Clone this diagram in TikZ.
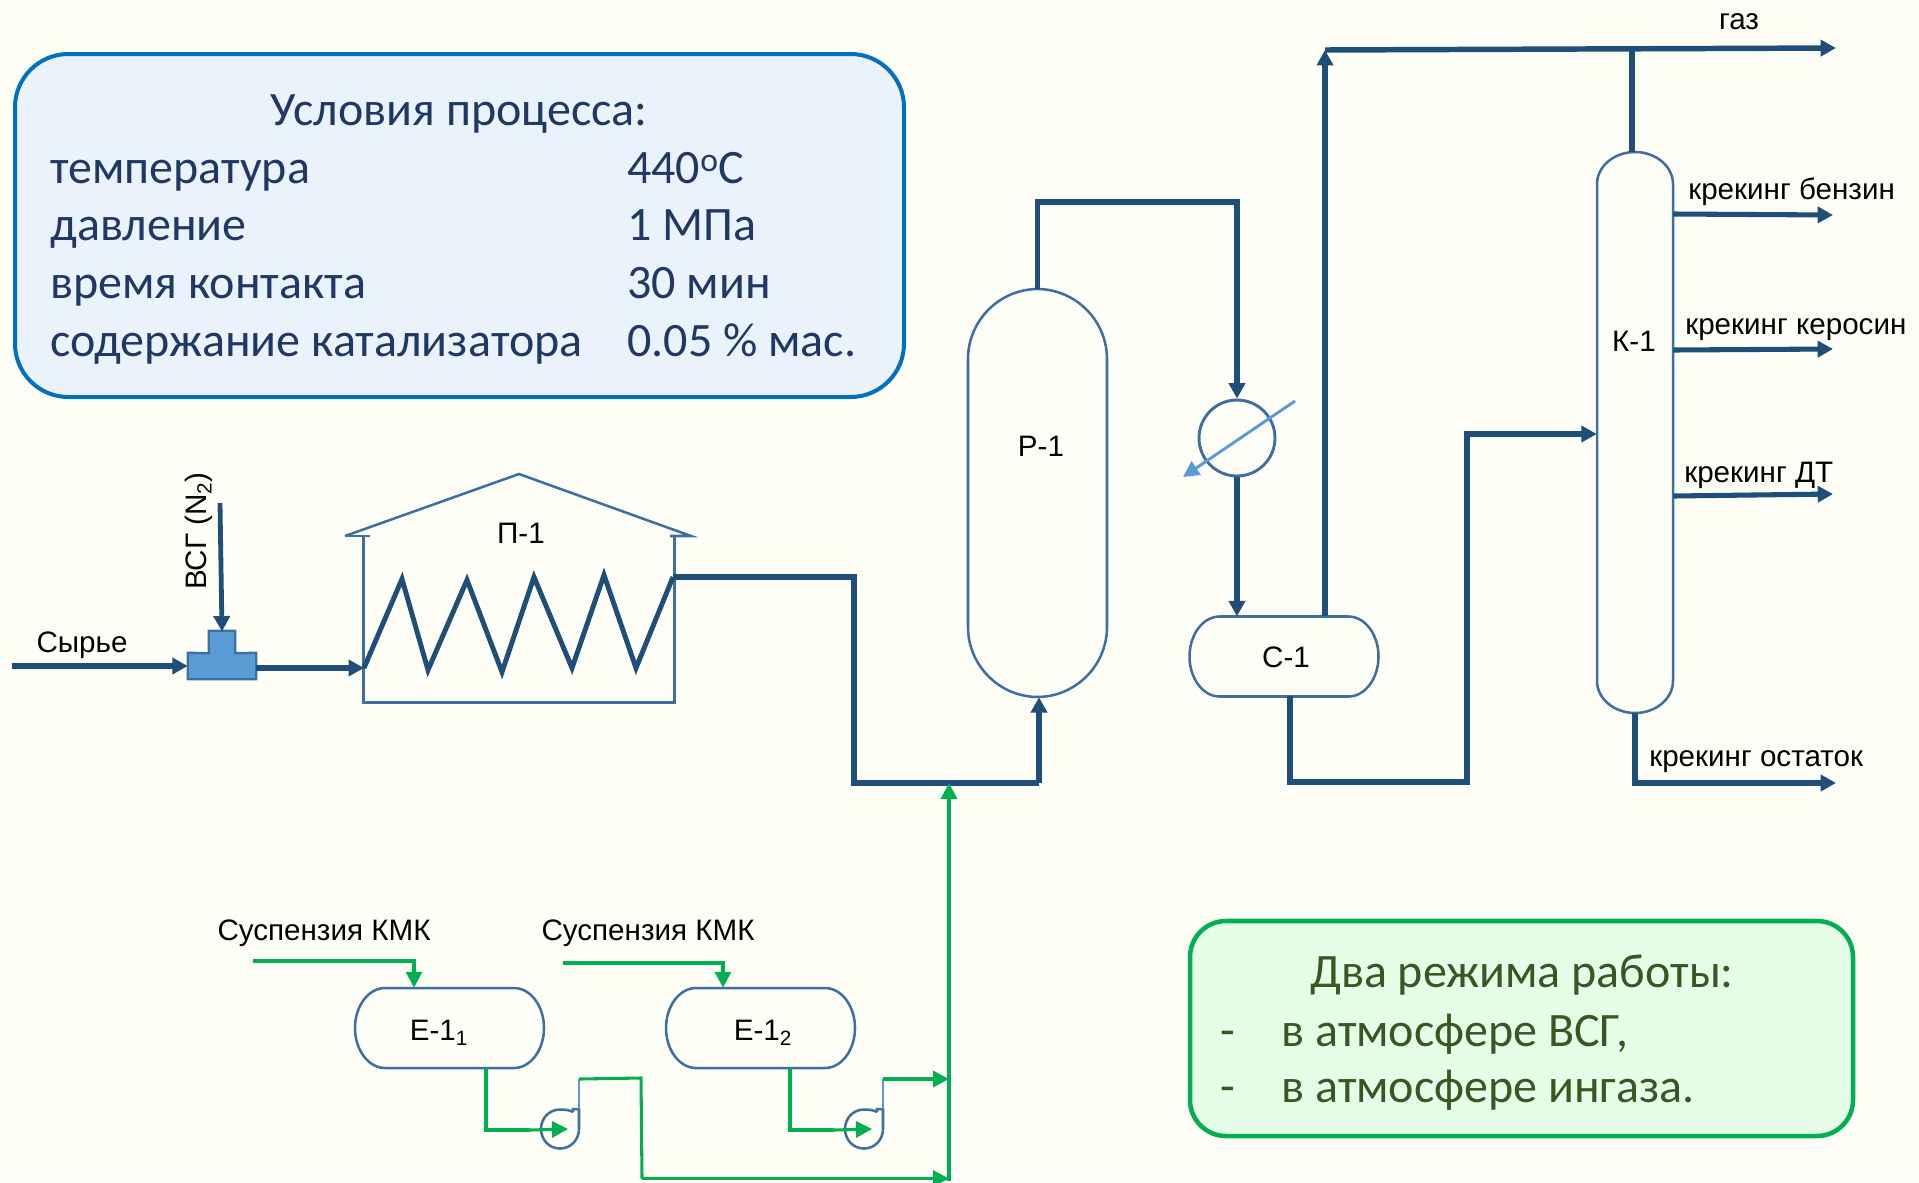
\documentclass[tikz,border=0pt]{standalone}
\usepackage{fontspec}
\setmainfont{Liberation Sans}
\newfontfamily\calfont{Carlito}
\usetikzlibrary{arrows.meta,calc}
\definecolor{bgc}{HTML}{FFFFF8}
\definecolor{pipe}{HTML}{1F4E79}
\definecolor{rim}{HTML}{3E6F9E}
\definecolor{lblue}{HTML}{5B9BD5}
\definecolor{grn}{HTML}{00B050}
\definecolor{infoT}{HTML}{203864}
\definecolor{greenT}{HTML}{385723}
\definecolor{infoB}{HTML}{0070C0}
\definecolor{infoF}{HTML}{EAF2FB}
\definecolor{greenF}{HTML}{E6FDE8}
\tikzset{
  x=0.75pt,y=-0.75pt,
  pipeline/.style={draw=pipe,line width=4.1pt,line join=miter},
  pipearrow/.style={pipeline,-{Triangle[length=11.5pt,width=12pt]}},
  greenline/.style={draw=grn,line width=2.3pt,line join=miter},
  greenarrow/.style={greenline,-{Triangle[length=12pt,width=12pt]}},
  rimline/.style={draw=rim,line width=1.9pt},
  lbl/.style={font=\fontsize{22.2pt}{26pt}\selectfont,inner sep=0pt,text=black},
  vesselbox/.style={inner sep=0pt,draw=none,lbl},
  infotxt/.style={font=\calfont\fontsize{36pt}{42pt}\selectfont,text=infoT,inner sep=0pt},
  greentxt/.style={font=\calfont\fontsize{36pt}{42pt}\selectfont,text=greenT,inner sep=0pt},
}
% name, cx, cy, half width, half height, rx, ry, label
\newcommand{\vessel}[8]{%
  \draw[rimline,shift={(#2,#3)}]
    ({-#4+#6},{-#5}) -- ({#4-#6},{-#5})
    .. controls ({#4-0.45*#6},{-#5}) and ({#4},{-#5+0.45*#7}) .. ({#4},{-#5+#7})
    -- ({#4},{#5-#7})
    .. controls ({#4},{#5-0.45*#7}) and ({#4-0.45*#6},{#5}) .. ({#4-#6},{#5})
    -- ({-#4+#6},{#5})
    .. controls ({-#4+0.45*#6},{#5}) and ({-#4},{#5-0.45*#7}) .. ({-#4},{#5-#7})
    -- ({-#4},{-#5+#7})
    .. controls ({-#4},{-#5+0.45*#7}) and ({-#4+0.45*#6},{-#5}) .. ({-#4+#6},{-#5}) -- cycle;
  \node[vesselbox,minimum width={2*#4*0.75pt},minimum height={2*#5*0.75pt}] (#1) at (#2,#3) {#8};
}
% name, cx, cy: pump body with its discharge neck
\newcommand{\pumpbody}[3]{%
  \node[circle,inner sep=0pt,minimum size=28.5pt] (#1) at (#2,#3) {};
  \draw[rimline,line join=miter,shift={(#2,#3)}]
    (13,-17) .. controls (9,-19) and (5,-19.5) .. (0,-19.5)
    .. controls (-11,-19.5) and (-19,-10.5) .. (-19,0)
    .. controls (-19,10.5) and (-11,19.5) .. (0,19.5)
    .. controls (11,19.5) and (19,10.5) .. (19,0)
    -- (19,-20) -- (13,-20) -- (13,-17);
}
\begin{document}
\begin{tikzpicture}
\fill[bgc] (0,0) rectangle (1919,1182);
\useasboundingbox (0,0) rectangle (1919,1182);

% information boxes
\draw[draw=infoB,line width=3pt,fill=infoF,rounded corners=40pt] (15,54) rectangle (904,397);
\node[infotxt,anchor=base] (t0) at (459,125.5) {Условия процесса:};
\node[infotxt,anchor=base west] (t1) at (50,183.5) {температура};
\node[infotxt,anchor=base west] (t2) at (50,240.5) {давление};
\node[infotxt,anchor=base west] (t3) at (50,298.5) {время контакта};
\node[infotxt,anchor=base west] (t4) at (50,356) {содержание катализатора};
\node[infotxt,anchor=base west] (v1) at (627,183.5) {440\textsuperscript{o}С};
\node[infotxt,anchor=base west] (v2) at (627,240.5) {1 МПа};
\node[infotxt,anchor=base west] (v3) at (627,298.5) {30 мин};
\node[infotxt,anchor=base west] (v4) at (627,356) {0.05 \% мас.};

\draw[draw=grn,line width=3.4pt,fill=greenF,rounded corners=27pt] (1190,921) rectangle (1853,1136);
\node[greentxt,anchor=base] (g0) at (1522,987) {Два режима работы:};
\node[greentxt,anchor=base west] (g1d) at (1220,1046) {-};
\node[greentxt,anchor=base west] (g2d) at (1220,1102) {-};
\node[greentxt,anchor=base west] (g1) at (1281,1046) {в атмосфере ВСГ,};
\node[greentxt,anchor=base west] (g2) at (1281,1102) {в атмосфере ингаза.};

% free ends
\coordinate (feedS) at (12,666);
\coordinate (vsgS) at (220,503);
\coordinate (feedIn) at (364,668);
\coordinate (coilOut) at (673,577);
\coordinate (gasEnd) at (1836,48);
\coordinate (gasCorner) at (1325,50);
\coordinate (gasTee) at (1632,49);
\coordinate (mixPt) at (949,783);

% furnace
\node[inner sep=0pt,minimum width=232.5pt,minimum height=124.5pt] (furn) at (519,619) {};
\draw[rimline] (furn.north west) -- (furn.south west) -- (furn.south east) -- (furn.north east);
\draw[rimline] (345,536) -- (519,474) -- (691,536) -- (670,536);
\draw[rimline] (345,536) -- (370,536);
\node[lbl] (furnL) at (521,533) {П-1};
\draw[pipeline,line width=3.7pt] (feedIn) -- (402,579) -- (428,670) -- (467,580) -- (502,672) -- (534,577) -- (572,668) -- (604,575) -- (636,668) -- (coilOut);

% mixer tee
\node[inner sep=0pt,minimum width=51pt,minimum height=19.5pt] (teeB) at (222,666) {};
\node[inner sep=0pt,minimum width=19.5pt,minimum height=16.5pt] (teeT) at (222,642) {};
\draw[draw=rim,line width=1.8pt,fill=lblue] (teeB.south west) -- (teeB.north west) -- (teeT.south west) -- (teeT.north west) -- (teeT.north east) -- (teeT.south east) -- (teeB.north east) -- (teeB.south east) -- cycle;

% vessels
\vessel{r1}{1037.5}{493}{69.5}{204}{70}{70}{}
\node[lbl] (r1L) at (1041,446) {Р-1};
\vessel{c1}{1284}{656.5}{94.5}{40}{30}{40}{}
\node[lbl] (c1L) at (1286,657) {С-1};
\vessel{k1}{1635}{432.5}{38}{280.5}{38}{32}{}
\node[lbl] (k1L) at (1634,341) {К-1};
\vessel{e1}{449.5}{1028}{94.5}{40}{30}{40}{}
\node[lbl] (e1L) at (439,1033) {Е-1\textsubscript{1}};
\vessel{e2}{760.5}{1028}{94.5}{40}{30}{40}{}
\node[lbl] (e2L) at (763,1033) {Е-1\textsubscript{2}};

% cooler
\node[circle,draw=rim,line width=2.2pt,minimum size=57pt,inner sep=0pt] (hx) at (1237,438) {};
\coordinate (hxA) at (1295,401);
\coordinate (hxB) at (1183,477);
\draw[draw=lblue,line width=2.2pt,-{Triangle[length=12pt,width=12pt]}] (hxA) -- (hxB);

% pumps
\pumpbody{pu1}{560}{1129}
\pumpbody{pu2}{864}{1129}
\coordinate (pu1T) at (579,1109);
\coordinate (pu1D) at (579,1079);
\coordinate (pu2T) at (883,1109);
\coordinate (pu2D) at (883,1079);
\draw[draw=lblue,line width=2pt] (pu1T) -- (pu1D);
\draw[draw=lblue,line width=2pt] (pu2T) -- (pu2D);

% dark process lines
\draw[pipearrow] (feedS) -- (teeB.west);
\draw[pipearrow,line width=3.6pt] (vsgS) -- ([yshift=-0.5pt]teeT.north);
\draw[pipearrow] (teeB.east |- feedIn) -- (feedIn);
\draw[pipeline] (coilOut) -- (854,577) -- (854,783) -- (1039,783);
\draw[pipearrow] (1039,783) -- (r1.south -| 1039,697);
\draw[pipearrow] (r1.north) |- (1237,202) -- (hx.north);
\draw[pipearrow] (hx.south) -- (c1.north -| hx.south);
\draw[pipearrow] (c1.north -| gasCorner) -- (gasCorner);
\draw[pipearrow] (gasCorner) -- (gasEnd);
\draw[pipeline] (k1.north -| gasTee) -- (gasTee);
\draw[pipearrow] (1290,696) |- (1467,782) -- (1467,434) -- (k1.west |- 0,434);
\draw[pipearrow,line width=3.8pt] (k1.east |- 0,214) -- (1833,215);
\draw[pipearrow,line width=3.8pt] (k1.east |- 0,350) -- (1833,349);
\draw[pipearrow,line width=3.8pt] (k1.east |- 0,496) -- (1833,494);
\draw[pipearrow] (k1.south) |- (1836,783);

% green lines
\coordinate (s1) at (253,961);
\coordinate (s2) at (563,963);
\draw[greenarrow] (s1) -| (e1.north -| 414,988);
\draw[greenarrow] (s2) -| (e2.north -| 723,988);
\draw[greenline] (486,1068) |- (530,1130);
\draw[greenarrow] (530,1130) -- (pu1.center -| 568,1130);
\draw[greenline] (790,1068) |- (834,1130);
\draw[greenarrow] (834,1130) -- (pu2.center -| 872,1130);
\draw[greenline] (pu1D) -- (641,1078) -- (642,1178.5);
\draw[greenarrow] (642,1178.5) -- (949,1178.5);
\draw[greenarrow] (pu2D) -- (949,1079);
\draw[greenarrow] (949,1181) -- (mixPt);

% labels
\node[lbl] (lF) at (82,645) {Сырье};
\node[lbl,rotate=90] (lV) at (199,531) {ВСГ (N\textsubscript{2})};
\node[lbl] (lS1) at (324,933) {Суспензия КМК};
\node[lbl] (lS2) at (648,933) {Суспензия КМК};
\node[lbl] (lG) at (1739,22) {газ};
\node[lbl,anchor=west] (lB) at (1688,192) {крекинг бензин};
\node[lbl,anchor=west] (lK) at (1685,330) {крекинг керосин};
\node[lbl,anchor=west] (lD) at (1684,475) {крекинг ДТ};
\node[lbl,anchor=west] (lO) at (1649,762) {крекинг остаток};
\end{tikzpicture}
\end{document}
